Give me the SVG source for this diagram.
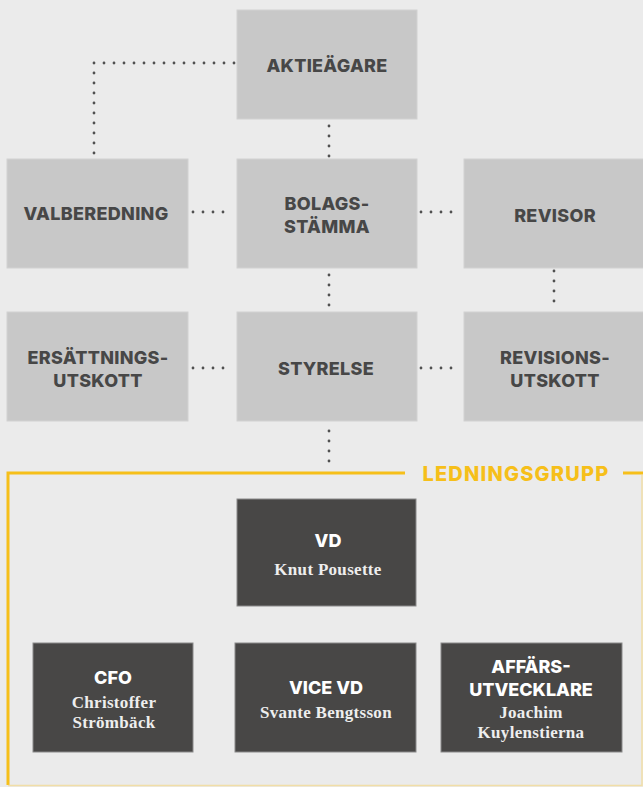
<svg xmlns="http://www.w3.org/2000/svg" width="643" height="787" viewBox="0 0 643 787">
<style>
.bg{fill:#ebebeb}
.lt{fill:#c8c8c8;stroke:#d2d2d2;stroke-width:1}
.dk{fill:#484746;stroke:#8a8a8a;stroke-width:1}
.t{font-family:Inter,"Liberation Sans",sans-serif;font-weight:800;font-size:18px;letter-spacing:0.3px;fill:#474747;text-anchor:middle;dominant-baseline:central}
.tw{font-family:Inter,"Liberation Sans",sans-serif;font-weight:800;font-size:18px;fill:#ffffff;text-anchor:middle;dominant-baseline:central}
.n{font-family:"Liberation Serif",serif;font-weight:bold;font-size:17px;letter-spacing:0.3px;fill:#eeeeee;text-anchor:middle;dominant-baseline:central}
.c{fill:none;stroke:#505050;stroke-width:2.8;stroke-dasharray:0 10;stroke-linecap:round}
.y{fill:none;stroke:#f6bf1a;stroke-width:3}
.yl{font-family:Inter,"Liberation Sans",sans-serif;font-weight:800;font-size:20px;letter-spacing:1.2px;fill:#f6bf1a;text-anchor:middle;dominant-baseline:central}
</style>
<rect class="bg" x="0" y="0" width="643" height="787"/>
<g id="connectors">
<path class="c" d="M234 63 H94 V159"/>
<path class="c" d="M329 126 V157"/>
<path class="c" d="M193 212 H233"/>
<path class="c" d="M421 212 H461"/>
<path class="c" d="M329 275 V308"/>
<path class="c" d="M554 271 V311"/>
<path class="c" d="M193 368 H233"/>
<path class="c" d="M421 368 H461"/>
<path class="c" d="M329 431 V462"/>
</g>
<g id="ledningsgrupp">
<path class="y" d="M405 473 H8 V785"/>
<path class="y" d="M623 473 H643"/>
<path d="M8 785.5 H642 V475" fill="none" stroke="#f3d98a" stroke-width="1.5" opacity="0.7"/>
<text class="yl" x="516" y="474">LEDNINGSGRUPP</text>
</g>
<g id="aktieagare"><rect class="lt" x="237" y="10" width="180" height="109"/><text class="t" x="327" y="65">AKTIEÄGARE</text></g>
<g id="valberedning"><rect class="lt" x="7" y="159" width="181" height="109"/><text class="t" x="96" y="213">VALBEREDNING</text></g>
<g id="bolagsstamma"><rect class="lt" x="237" y="159" width="180" height="109"/><text class="t" x="327" y="203">BOLAGS-</text><text class="t" x="327" y="226">STÄMMA</text></g>
<g id="revisor"><rect class="lt" x="464" y="159" width="180" height="109"/><text class="t" x="555" y="215">REVISOR</text></g>
<g id="ersattningsutskott"><rect class="lt" x="7" y="312" width="181" height="109"/><text class="t" x="98" y="357">ERSÄTTNINGS-</text><text class="t" x="98" y="380">UTSKOTT</text></g>
<g id="styrelse"><rect class="lt" x="237" y="312" width="180" height="109"/><text class="t" x="326" y="368">STYRELSE</text></g>
<g id="revisionsutskott"><rect class="lt" x="464" y="312" width="180" height="109"/><text class="t" x="555" y="357">REVISIONS-</text><text class="t" x="555" y="380">UTSKOTT</text></g>
<g id="vd"><rect class="dk" x="237" y="499" width="179" height="107"/><text class="tw" x="328" y="540">VD</text><text class="n" x="328" y="569">Knut Pousette</text></g>
<g id="cfo"><rect class="dk" x="33" y="643" width="160" height="109"/><text class="tw" x="113" y="677">CFO</text><text class="n" x="114" y="702">Christoffer</text><text class="n" x="114" y="722">Strömbäck</text></g>
<g id="vicevd"><rect class="dk" x="235" y="643" width="181" height="109"/><text class="tw" x="326" y="687">VICE VD</text><text class="n" x="326" y="712">Svante Bengtsson</text></g>
<g id="affarsutvecklare"><rect class="dk" x="441" y="643" width="181" height="109"/><text class="tw" x="531" y="666">AFFÄRS-</text><text class="tw" x="531" y="689">UTVECKLARE</text><text class="n" x="531" y="712">Joachim</text><text class="n" x="531" y="732">Kuylenstierna</text></g>
</svg>
